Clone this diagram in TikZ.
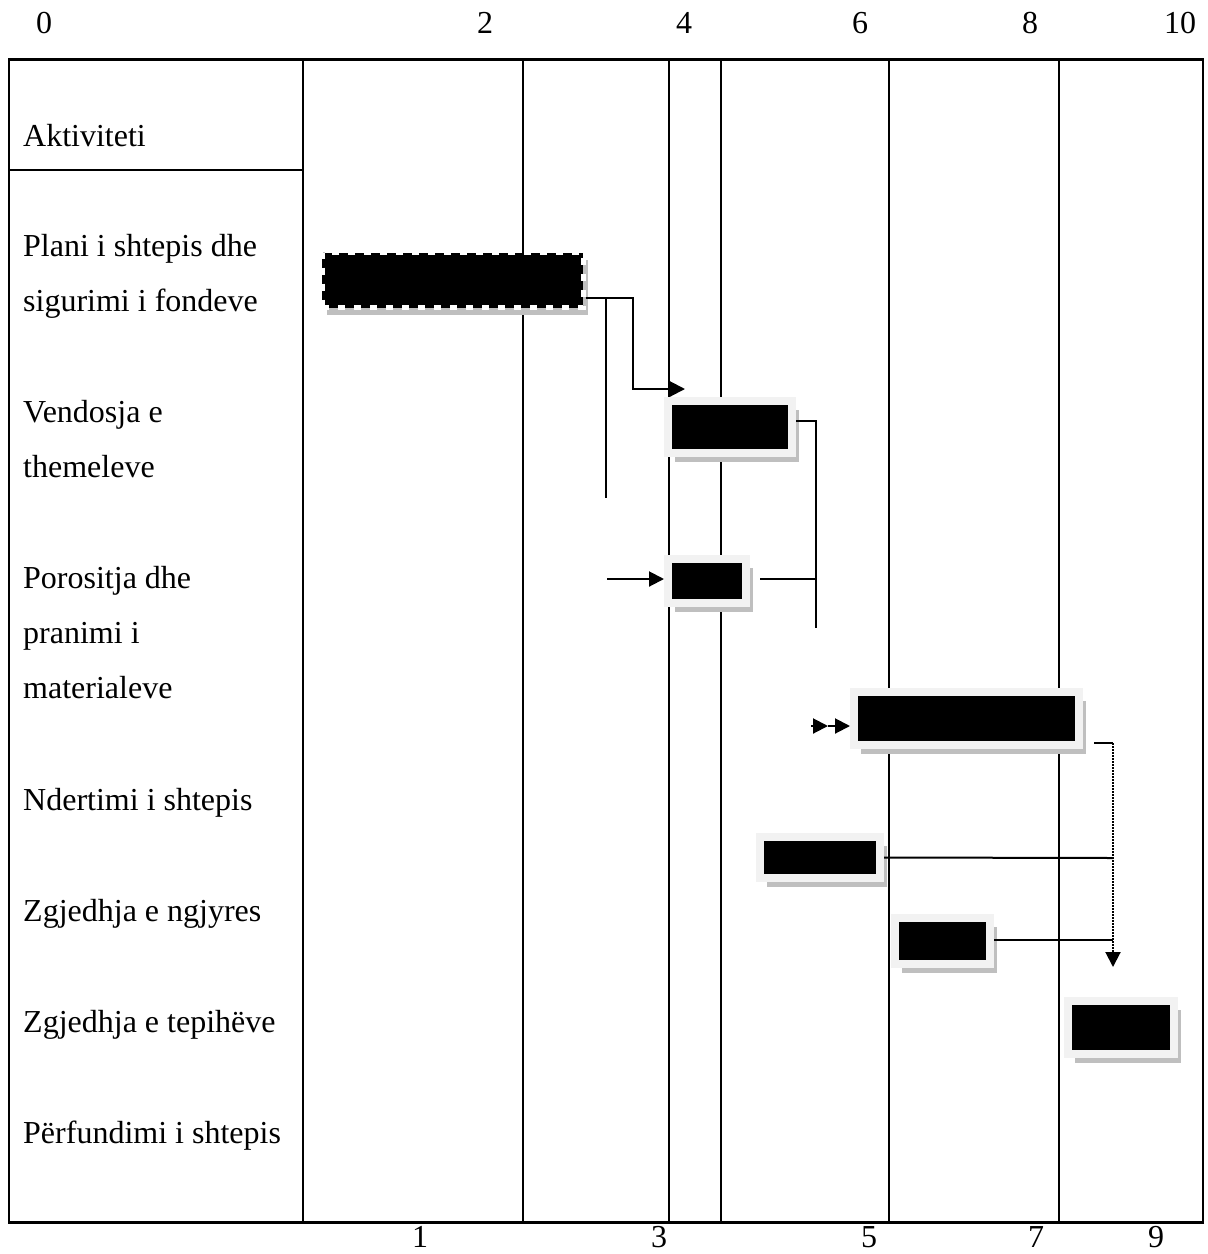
\documentclass[tikz,border=0pt]{standalone}
\usepackage{fontspec}
\setmainfont{Liberation Serif}
\usetikzlibrary{arrows.meta}
\usetikzlibrary{shadows}
\definecolor{barframe}{gray}{0.95}
\definecolor{barshade}{gray}{0.75}
\newcommand{\bigtxt}{\fontsize{32}{38}\selectfont}
\tikzset{
  grid/.style={line width=2pt},
  edge/.style={line width=3pt},
  lbl/.style={anchor=base west,inner sep=0pt,font=\bigtxt},
  num/.style={anchor=base,inner sep=0pt,font=\bigtxt},
  bar/.style={fill=black,draw=barframe,line width=8pt,inner sep=0pt,
    drop shadow={shadow xshift=7pt,shadow yshift=-9pt,fill=barshade,opacity=1}},
  dashbar/.style={inner sep=0pt,
    drop shadow={shadow xshift=5pt,shadow yshift=-7pt,fill=barshade,opacity=1},
    preaction={draw=black,line width=5pt},
    fill=black,draw=white,line width=5pt,dash pattern=on 7pt off 9pt},
  conn/.style={line width=2pt},
  tip/.style={-{Triangle[length=15pt,width=15pt]}}
}

\begin{document}
\begin{tikzpicture}[x=1pt,y=-1pt]
  \useasboundingbox (0,0) rectangle (1208,1254);
  % table
  \foreach \x in {303,523,669,721,889,1059}
    \draw[grid] (\x,59) -- (\x,1222);
  \draw[grid] (9,59) -- (9,1222);
  \draw[grid] (1203,59) -- (1203,1222);
  \draw[edge] (8,59) -- (1204,59);
  \draw[edge] (8,1222) -- (1204,1222);
  \draw[grid] (8,170) -- (303,170);
  % scale
  \foreach \n/\x in {0/44,2/485,4/684,6/860,8/1030,10/1180}
    \node[num] (top\n) at (\x,33) {\n};
  \foreach \n/\x in {1/420,3/659,5/869,7/1036,9/1156}
    \node[num] (bot\n) at (\x,1247) {\n};
  % activities
  \node[lbl] (t-akt) at (23,146) {Aktiviteti};
  \node[lbl] (t-plani) at (23,256) {Plani i shtepis dhe};
  \node[lbl] (t-plani2) at (23,311) {sigurimi i fondeve};
  \node[lbl] (t-themele) at (23,422) {Vendosja e};
  \node[lbl] (t-themele2) at (23,477) {themeleve};
  \node[lbl] (t-porosi) at (23,588) {Porositja dhe};
  \node[lbl] (t-porosi2) at (23,643) {pranimi i};
  \node[lbl] (t-porosi3) at (23,698) {materialeve};
  \node[lbl] (t-ndertim) at (23,810) {Ndertimi i shtepis};
  \node[lbl] (t-ngjyre) at (23,921) {Zgjedhja e ngjyres};
  \node[lbl] (t-tepihe) at (23,1032) {Zgjedhja e tepihëve};
  \node[lbl] (t-fund) at (23,1143) {Përfundimi i shtepis};
  % bars
  \node[dashbar,minimum width=261pt,minimum height=55pt] (plani) at (452.5,280) {};
  \node[bar,minimum width=124pt,minimum height=52pt] (themele) at (730,427) {};
  \node[bar,minimum width=78pt,minimum height=44pt] (porosi) at (707,581) {};
  \node[bar,minimum width=225pt,minimum height=53pt] (ndertim) at (966.5,718.5) {};
  \node[bar,minimum width=120pt,minimum height=41pt] (ngjyre) at (820,857.5) {};
  \node[bar,minimum width=95pt,minimum height=46pt] (tepihe) at (942.5,941) {};
  \node[bar,minimum width=106pt,minimum height=53pt] (fund) at (1121,1027.5) {};
  % links
  \coordinate (a1) at (633,389);
  \coordinate (a2) at (685,389);
  \coordinate (b1) at (606,298);
  \coordinate (b2) at (606,498);
  \coordinate (b3) at (607,579);
  \coordinate (c1) at (816,628);
  \coordinate (c2) at (816,579);
  \coordinate (d0) at (811,726);
  \coordinate (d1) at (828,726);
  \coordinate (e1) at (1113,743);
  \coordinate (e2) at (1113,967);
  \coordinate (e3) at (1113,858);
  \coordinate (e4) at (1113,940);
  \draw[conn,tip] ([yshift=-18pt]plani.east) -| (a1) -- (a2);
  \draw[conn] (b1) -- (b2);
  \draw[conn,tip] (b3) -- (b3 -| porosi.west);
  \draw[conn] ([yshift=6pt]themele.east) -| (c1);
  \draw[conn] ([xshift=10pt,yshift=2pt]porosi.east) -- (c2);
  \draw[conn,tip] (d0) -- (d1);
  \draw[conn,tip] (d1) -- (d1 -| ndertim.west);
  \draw[conn] ([xshift=11pt,yshift=-24.5pt]ndertim.east) -- (e1);
  \draw[conn,tip,dash pattern=on 1.5pt off 1.5pt] (e1) -- (e2);
  \draw[conn] (ngjyre.east) -- (e3);
  \draw[conn] ([yshift=1pt]tepihe.east) -- (e4);
\end{tikzpicture}
\end{document}
